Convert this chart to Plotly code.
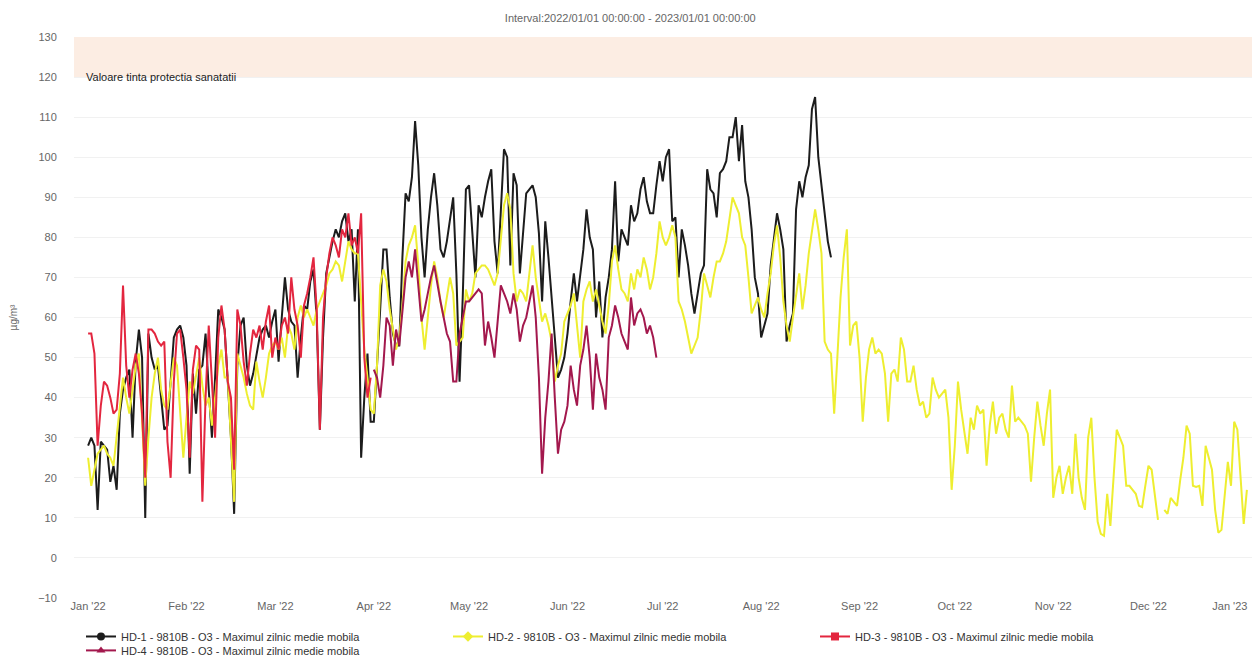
import pandas as pd
import plotly.graph_objects as go

# --- Serii zilnice (ug/m3) ---
# HD-1: 1 ian - 23 aug
hd1_ian = [28, 30, 28, 12, 29, 28, 27, 19, 23, 17, 36, 42, 45, 47, 30, 49, 57, 50, 10, 56,
           50, 47, 48, 40, 32, 33, 44, 55, 57, 58, 55]
hd1_feb = [48, 21, 46, 36, 47, 48, 56, 42, 30, 45, 62, 60, 57, 44, 30, 11, 48, 58, 60, 48,
           43, 46, 51, 55, 57, 58, 55, 59]
hd1_mar = [62, 49, 60, 70, 62, 59, 58, 45, 55, 63, 62, 69, 72, 60, 32, 55, 71, 75, 79, 82,
           80, 84, 86, 79, 82, 64, 82, 25, 40, 51, 34]
hd1_apr = [34, 47, 62, 77, 77, 65, 56, 53, 53, 75, 91, 89, 95, 109, 98, 80, 70, 82, 90, 96,
           88, 77, 75, 79, 85, 90, 71, 44, 65, 92]
hd1_mai = [93, 80, 70, 88, 85, 90, 94, 97, 79, 71, 85, 102, 100, 73, 96, 93, 71, 80, 91, 92,
           93, 90, 81, 64, 84, 75, 64, 55, 45, 47, 50]
hd1_iun = [56, 64, 71, 64, 70, 77, 87, 80, 77, 60, 69, 55, 65, 70, 77, 94, 74, 82, 80, 78,
           88, 84, 86, 92, 95, 89, 86, 86, 93, 99]
hd1_iul = [94, 100, 102, 84, 85, 70, 82, 78, 73, 66, 61, 66, 71, 73, 97, 92, 91, 85, 96, 97,
           99, 105, 105, 110, 99, 108, 94, 90, 82, 70, 66]
hd1_aug = [55, 58, 61, 73, 80, 86, 82, 77, 54, 58, 61, 87, 94, 90, 95, 98, 112, 115, 100, 93,
           85, 79, 75]

# HD-2: 1 ian 2022 - 1 ian 2023
hd2_ian = [25, 18, 22, 26, 27, 28, 26, 25, 23, 30, 38, 45, 40, 36, 42, 48, 51, 35, 18, 30,
           40, 46, 50, 42, 38, 37, 44, 50, 48, 35, 25]
hd2_feb = [35, 44, 41, 46, 50, 43, 38, 40, 33, 40, 48, 52, 45, 45, 30, 14, 51, 48, 45, 41,
           38, 37, 49, 44, 40, 45, 51, 53]
hd2_mar = [54, 52, 55, 50, 58, 56, 52, 60, 63, 60, 62, 60, 58, 62, 64, 66, 68, 71, 72, 74,
           73, 69, 74, 79, 77, 76, 76, 64, 52, 45, 37]
hd2_apr = [36, 48, 68, 72, 69, 62, 57, 52, 55, 63, 74, 78, 80, 83, 73, 60, 52, 60, 68, 74,
           70, 64, 60, 65, 70, 66, 53, 54, 55, 67]
hd2_mai = [64, 66, 71, 72, 73, 73, 72, 70, 68, 71, 80, 88, 91, 87, 71, 64, 67, 66, 64, 71,
           78, 70, 65, 59, 61, 58, 54, 44, 48, 51, 59]
hd2_iun = [61, 63, 66, 58, 50, 64, 67, 69, 64, 67, 63, 59, 56, 63, 74, 78, 72, 67, 66, 64,
           71, 67, 72, 70, 75, 72, 67, 70, 76, 84]
hd2_iul = [80, 78, 80, 83, 80, 64, 62, 59, 55, 51, 53, 55, 62, 71, 68, 65, 70, 74, 74, 76,
           79, 84, 90, 88, 86, 80, 78, 70, 61, 63, 65]
hd2_aug = [62, 60, 66, 71, 78, 83, 75, 64, 58, 54, 60, 66, 71, 62, 68, 76, 82, 87, 82, 76,
           54, 52, 51, 36, 50, 65, 75, 82, 53, 58, 59]
hd2_sep = [50, 34, 45, 52, 55, 51, 52, 51, 46, 34, 46, 47, 44, 55, 52, 44, 44, 48, 42, 38,
           39, 35, 36, 45, 42, 40, 41, 42, 35, 17]
hd2_oct = [28, 44, 37, 31, 26, 35, 32, 38, 36, 37, 23, 33, 39, 31, 35, 36, 32, 30, 43, 34,
           35, 34, 33, 31, 19, 30, 39, 33, 28, 36, 42]
hd2_noi = [15, 20, 23, 16, 20, 23, 16, 31, 20, 15, 12, 30, 35, 20, 9, 6, 5.5, 16, 8, 20,
           32, 30, 28, 18, 18, 17, 16, 13, 12.7, 18]
hd2_dec = [23, 22, 15, 9.5, None, 12, 11, 15, 14, 13, 19.5, 25, 33, 31, 18, 17.7, 18, 13, 28, 25,
           22, 12, 6.3, 7, 15, 24, 18, 34, 32, 20, 8.5, 17]

# HD-3: 1 ian - 31 mar
hd3_ian = [56, 56, 51, 28, 38, 44, 43, 40, 36, 37, 46, 68, 48, 40, 47, 51, 46, 36, 20, 57,
           57, 56, 54, 53, 54, 29, 20, 44, 56, 57, 50]
hd3_feb = [42, 25, 47, 53, 52, 14, 40, 58, 45, 30, 55, 63, 57, 44, 40, 22, 62, 58, 49, 43,
           51, 57, 55, 58, 52, 59, 63, 50]
hd3_mar = [55, 52, 58, 60, 56, 70, 62, 58, 50, 63, 66, 70, 75, 62, 32, 60, 70, 76, 80, 78,
           75, 82, 80, 86, 78, 80, 76, 86, 50, 40, 45]

# HD-4: 1 apr - 29 iun
hd4_apr = [47, 45, 40, 48, 60, 58, 48, 57, 53, 62, 70, 74, 70, 77, 68, 59, 62, 66, 70, 73,
           68, 64, 60, 56, 54, 44, 44, 56, 60, 64]
hd4_mai = [64, 65, 66, 67, 66, 53, 59, 55, 50, 60, 68, 66, 64, 61, 66, 62, 54, 58, 60, 64,
           68, 60, 45, 21, 35, 44, 56, 40, 26, 32, 34]
hd4_iun = [38, 48, 42, 38, 48, 52, 58, 50, 37, 51, 45, 42, 37, 55, 58, 63, 60, 56, 54, 52,
           65, 58, 61, 62, 60, 56, 58, 55, 50]

# axa X
month_ticks = pd.date_range("2022-01-01", "2023-01-01", freq="MS")
month_labels = ["Jan '22", "Feb '22", "Mar '22", "Apr '22", "May '22", "Jun '22", "Jul '22",
                "Aug '22", "Sep '22", "Oct '22", "Nov '22", "Dec '22", "Jan '23"]

hd1 = hd1_ian + hd1_feb + hd1_mar + hd1_apr + hd1_mai + hd1_iun + hd1_iul + hd1_aug
hd2 = (hd2_ian + hd2_feb + hd2_mar + hd2_apr + hd2_mai + hd2_iun + hd2_iul + hd2_aug
       + hd2_sep + hd2_oct + hd2_noi + hd2_dec)
hd3 = hd3_ian + hd3_feb + hd3_mar
hd4 = hd4_apr + hd4_mai + hd4_iun

# (nume, start, valori, culoare, simbol, legenda)
series = [
    ("HD-1 - 9810B - O3 - Maximul zilnic medie mobila", "2022-01-01", hd1, "#1c1c1c", "circle", "legend"),
    ("HD-2 - 9810B - O3 - Maximul zilnic medie mobila", "2022-01-01", hd2, "#eeee30", "diamond", "legend"),
    ("HD-3 - 9810B - O3 - Maximul zilnic medie mobila", "2022-01-01", hd3, "#e3263f", "square", "legend"),
    ("HD-4 - 9810B - O3 - Maximul zilnic medie mobila", "2022-04-01", hd4, "#a3184d", "triangle-up", "legend2"),
]

FONT = "Liberation Sans, Arial, sans-serif"
X_RANGE = ["2021-12-27 13:25", "2023-01-04 12:00"]

fig = go.Figure()

# banda valoare tinta (120-130)
fig.add_shape(type="rect", xref="paper", x0=0, x1=1, yref="y", y0=120, y1=130,
              fillcolor="#fcede3", line_width=0, layer="below")
fig.add_annotation(text="Valoare tinta protectia sanatatii", xref="paper", x=0, xshift=10,
                   yref="y", y=120, xanchor="left", yanchor="middle", showarrow=False,
                   font=dict(family=FONT, size=11, color="#222"))

for name, start, vals, color, symbol, leg in series:
    dates = pd.date_range(start, periods=len(vals), freq="D")
    fig.add_trace(go.Scatter(
        x=dates, y=vals, mode="lines", name=name, showlegend=False,
        line=dict(color=color, width=2), connectgaps=False,
    ))

# intrari legenda (simbol + linie)
for name, start, vals, color, symbol, leg in series:
    fig.add_trace(go.Scatter(
        x=[None], y=[None], mode="lines+markers", name=name, legend=leg,
        line=dict(color=color, width=2), marker=dict(color=color, size=8, symbol=symbol),
    ))

# axa suprapusa doar pentru ultima eticheta (Jan '23), impinsa spre stanga ca sa incapa
fig.add_trace(go.Scatter(x=[None], y=[None], xaxis="x2", showlegend=False, hoverinfo="skip"))

legend_style = dict(orientation="h", xref="container", yref="container", x=0.0583,
                    xanchor="left", yanchor="top", entrywidth=322, entrywidthmode="pixels",
                    bgcolor="rgba(0,0,0,0)",
                    font=dict(family=FONT, size=11, color="#333"), itemwidth=30)

axis_x = dict(type="date", range=X_RANGE, showgrid=False, zeroline=False, showline=False,
              ticks="", tickfont=dict(size=11, color="#666"))

# pagina are margine de 8px in jurul graficului
fig.update_layout(
    width=1252, height=648,
    margin=dict(l=66, r=2, t=29, b=58, autoexpand=False),
    paper_bgcolor="white", plot_bgcolor="white",
    font=dict(family=FONT, size=11, color="#666"),
    title=dict(text="Interval:2022/01/01 00:00:00 - 2023/01/01 00:00:00",
               xref="container", x=0.497, xanchor="center", y=0.985, yanchor="middle",
               font=dict(family=FONT, size=11, color="#666")),
    showlegend=True,
    legend=dict(legend_style, y=0.0525),
    legend2=dict(legend_style, y=0.031),
    xaxis=dict(axis_x, tickvals=month_ticks[:-1], ticktext=month_labels[:-1]),
    xaxis2=dict(axis_x, overlaying="x", side="bottom", anchor="y",
                tickvals=month_ticks[-1:], ticktext=month_labels[-1:], ticklabelshift=-17),
)

fig.update_yaxes(
    range=[-10, 130], dtick=10, tick0=0,
    showgrid=True, gridcolor="#f1f1f1", gridwidth=1, zeroline=False, showline=False,
    ticks="outside", ticklen=14, tickcolor="rgba(0,0,0,0)",
    tickfont=dict(size=11, color="#666"),
    title=dict(text="µg/m³", standoff=19, font=dict(size=10, color="#666")),
)

fig.write_html("out.html")
